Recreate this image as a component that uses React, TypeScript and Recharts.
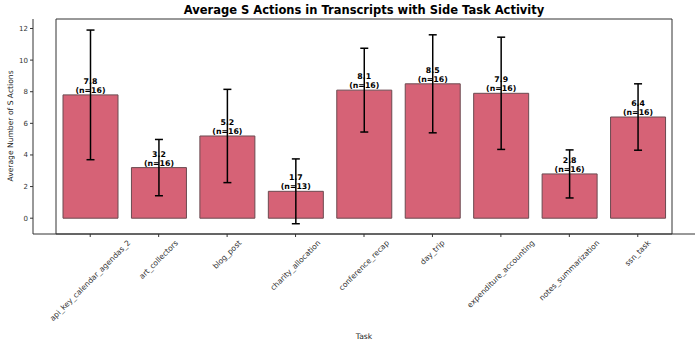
import { BarChart, Bar, XAxis, YAxis, ErrorBar, LabelList, ReferenceArea } from "recharts"

const tasks = [
  "api_key_calendar_agendas_2",
  "art_collectors",
  "blog_post",
  "charity_allocation",
  "conference_recap",
  "day_trip",
  "expenditure_accounting",
  "notes_summarization",
  "ssn_task",
]
const means = [7.8, 3.2, 5.2, 1.7, 8.1, 8.5, 7.9, 2.8, 6.4]
const errs = [4.1, 1.78, 2.95, 2.05, 2.65, 3.1, 3.55, 1.52, 2.1]
const counts = [16, 16, 16, 13, 16, 16, 16, 16, 16]
const yTicks = [0, 2, 4, 6, 8, 10, 12]

const data = tasks.map((task, i) => ({ task, mean: means[i], err: errs[i], n: counts[i] }))

const FONT = '"DejaVu Sans", sans-serif'

let ctx: CanvasRenderingContext2D | null = null
function textWidth(s: string, font: string) {
  if (!ctx) ctx = document.createElement("canvas").getContext("2d")
  if (!ctx) return s.length * 4.5
  ctx.font = font
  return ctx.measureText(s).width
}

function TaskTick(props: any) {
  const { x, y, payload } = props
  const fs = 7.6
  const w = textWidth(payload.value, `${fs}px "DejaVu Sans"`)
  const cy = y + ((w + fs) * 0.7071) / 2
  return (
    <text
      x={x}
      y={cy}
      textAnchor="middle"
      dominantBaseline="central"
      fontSize={fs}
      fontFamily={FONT}
      fill="#333"
      transform={`rotate(-45 ${x} ${cy})`}
    >
      {payload.value}
    </text>
  )
}

function BarLabel(props: any) {
  const { x, y, width, value, index } = props
  const cx = x + width / 2
  return (
    <text textAnchor="middle" fontSize={7.8} fontWeight="bold" fontFamily={FONT} fill="#000">
      <tspan x={cx} y={y - 11}>{Number(value).toFixed(1)}</tspan>
      <tspan x={cx} y={y - 2}>(n={counts[index]})</tspan>
    </text>
  )
}

export default function App() {
  return (
    <div style={{ position: "absolute", left: 0, top: 0, width: 700, height: 347, background: "#fff", fontFamily: FONT }}>
      <div
        style={{
          position: "absolute",
          left: 364,
          top: 3,
          transform: "translateX(-50%)",
          whiteSpace: "nowrap",
          fontSize: 11.5,
          fontWeight: "bold",
          color: "#000",
        }}
      >
        Average S Actions in Transcripts with Side Task Activity
      </div>
      <div
        style={{
          position: "absolute",
          left: 10,
          top: 126,
          transform: "translate(-50%, -50%) rotate(-90deg)",
          whiteSpace: "nowrap",
          fontSize: 7.6,
          color: "#222",
        }}
      >
        Average Number of S Actions
      </div>
      <div
        style={{
          position: "absolute",
          left: 364,
          top: 336,
          transform: "translate(-50%, -50%)",
          fontSize: 7.6,
          color: "#222",
        }}
      >
        Task
      </div>
      <BarChart
        width={700}
        height={347}
        data={data}
        margin={{ top: 19, right: 5, bottom: 5, left: 8 }}
        barSize={55}
      >
        <XAxis
          dataKey="task"
          interval={0}
          tick={<TaskTick />}
          tickSize={3}
          tickMargin={2}
          height={108}
          padding={{ left: 23, right: 23 }}
          stroke="#333"
        />
        <YAxis
          domain={[-1, 12.6]}
          ticks={yTicks}
          width={25}
          tickSize={3}
          tickMargin={2}
          tick={{ fontSize: 7, fill: "#333", fontFamily: FONT }}
          stroke="#333"
          allowDataOverflow
        />
        <ReferenceArea y1={-1} y2={12.6} fill="none" stroke="#333" strokeWidth={1} ifOverflow="visible" />
        <Bar dataKey="mean" fill="#d66276" stroke="#6b4a50" strokeWidth={1} isAnimationActive={false}>
          <ErrorBar dataKey="err" width={4} stroke="#000" strokeWidth={1.5} />
          <LabelList dataKey="mean" content={<BarLabel />} />
        </Bar>
      </BarChart>
    </div>
  )
}
